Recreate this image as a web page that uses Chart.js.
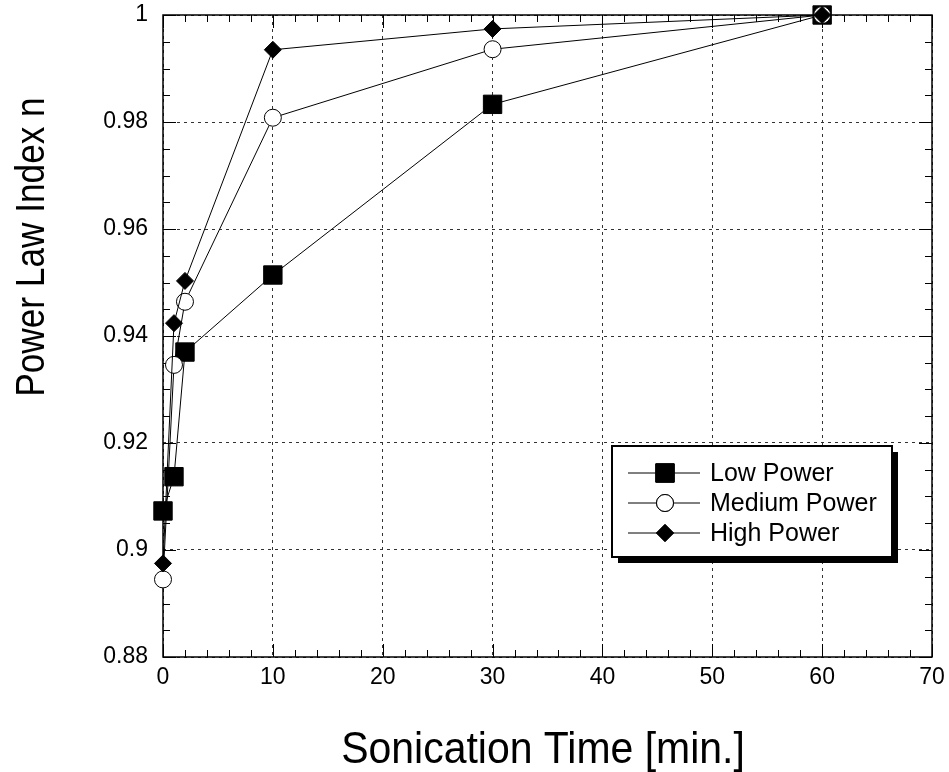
<!DOCTYPE html>
<html lang="en">
<head>
  <meta charset="UTF-8">
  <title>Power Law Index vs Sonication Time</title>
  <script src="https://cdn.jsdelivr.net/npm/chart.js@4.4.0/dist/chart.umd.min.js"></script>
  <style>
    html, body { margin: 0; padding: 0; background: #fff; }
    #wrap { width: 949px; height: 772px; }
  </style>
</head>
<body>
  <div id="wrap"><canvas id="chart"></canvas></div>

  <script>
    // sonication time in minutes
    const times = [0, 1, 2, 10, 30, 60];
    const lowPower = [0.9073, 0.9137, 0.9370, 0.9514, 0.9833, 1.0];
    const mediumPower = [0.8945, 0.9346, 0.9464, 0.9808, 0.9936, 1.0];
    const highPower = [0.8975, 0.9424, 0.9503, 0.9935, 0.9974, 1.0];
    const seriesNames = ['Low Power', 'Medium Power', 'High Power'];

    const xTickValues = [0, 10, 20, 30, 40, 50, 60, 70];
    const xTickLabels = ['0', '10', '20', '30', '40', '50', '60', '70'];
    const yTickValues = [0.88, 0.9, 0.92, 0.94, 0.96, 0.98, 1.0];
    const yTickLabels = ['0.88', '0.9', '0.92', '0.94', '0.96', '0.98', '1'];

    const FONT = '"Liberation Sans", Arial, sans-serif';

    const toPoints = ys => times.map((t, i) => ({ x: t, y: ys[i] }));

    // frame + inside ticks on all four sides
    const framePlugin = {
      id: 'frame',
      beforeDatasetsDraw(chart) {
        const { ctx, chartArea: a, scales: { x, y } } = chart;
        ctx.save();
        ctx.strokeStyle = '#000';
        ctx.lineWidth = 1;
        ctx.beginPath();
        for (let v = 0; v <= 70; v += 2) {
          const px = Math.round(x.getPixelForValue(v)) + 0.5;
          const len = v % 10 === 0 ? 13 : 7;
          ctx.moveTo(px, a.bottom); ctx.lineTo(px, a.bottom - len);
          ctx.moveTo(px, a.top); ctx.lineTo(px, a.top + len);
        }
        for (let k = 0; k <= 24; k++) {
          const v = 0.88 + k * 0.005;
          const py = Math.round(y.getPixelForValue(v)) + 0.5;
          const len = k % 4 === 0 ? 13 : 7;
          ctx.moveTo(a.left, py); ctx.lineTo(a.left + len, py);
          ctx.moveTo(a.right, py); ctx.lineTo(a.right - len, py);
        }
        ctx.stroke();
        ctx.lineWidth = 1.5;
        ctx.strokeRect(a.left, a.top, a.right - a.left, a.bottom - a.top);
        ctx.restore();
      },
      afterDraw(chart) {
        const { ctx } = chart;
        ctx.save();
        ctx.fillStyle = '#000';

        // axis titles (glyphs in the original are a bit condensed)
        ctx.textAlign = 'center';
        ctx.textBaseline = 'alphabetic';
        ctx.save();
        ctx.translate(543, 763);
        ctx.scale(0.91, 1);
        ctx.font = '45px ' + FONT;
        ctx.fillText('Sonication Time [min.]', 0, 0);
        ctx.restore();

        ctx.save();
        ctx.translate(44, 247);
        ctx.rotate(-Math.PI / 2);
        ctx.scale(0.88, 1);
        ctx.font = '40px ' + FONT;
        ctx.fillText('Power Law Index n', 0, 0);
        ctx.restore();

        // legend box with drop shadow
        const bx = 612, by = 446, bw = 280, bh = 111;
        ctx.fillRect(bx + 6, by + 6, bw, bh);
        ctx.fillStyle = '#fff';
        ctx.fillRect(bx, by, bw, bh);
        ctx.strokeStyle = '#000';
        ctx.lineWidth = 2;
        ctx.strokeRect(bx, by, bw, bh);

        ctx.font = '25px ' + FONT;
        ctx.textAlign = 'left';
        ctx.textBaseline = 'middle';
        chart.data.datasets.forEach((ds, i) => {
          const ry = by + 27 + i * 30;
          ctx.strokeStyle = '#000';
          ctx.lineWidth = 1;
          ctx.beginPath();
          ctx.moveTo(bx + 16, ry); ctx.lineTo(bx + 88, ry);
          ctx.stroke();
          Chart.helpers.drawPoint(ctx, {
            pointStyle: ds.pointStyle,
            radius: ds.pointRadius,
            rotation: 0,
            borderWidth: 1
          }, bx + 53, ry);
          ctx.fillStyle = ds.pointBackgroundColor;
          ctx.fill();
          ctx.stroke();
          ctx.fillStyle = '#000';
          ctx.fillText(ds.label, bx + 98, ry + 1);
        });
        ctx.restore();
      }
    };

    const common = {
      showLine: true,
      borderColor: '#000',
      borderWidth: 1,
      pointBorderColor: '#000',
      pointBorderWidth: 1,
      tension: 0,
      clip: false
    };

    new Chart(document.getElementById('chart'), {
      type: 'scatter',
      data: {
        datasets: [
          { ...common, label: seriesNames[0], data: toPoints(lowPower), pointStyle: 'rect', pointRadius: 13, pointBackgroundColor: '#000', order: 3 },
          { ...common, label: seriesNames[1], data: toPoints(mediumPower), pointStyle: 'circle', pointRadius: 8.5, pointBackgroundColor: '#fff', order: 2 },
          { ...common, label: seriesNames[2], data: toPoints(highPower), pointStyle: 'rectRot', pointRadius: 8.5, pointBackgroundColor: '#000', order: 1 }
        ]
      },
      options: {
        responsive: true,
        maintainAspectRatio: false,
        animation: false,
        events: [],
        layout: { padding: { top: 15, right: 17, left: 0, bottom: 0 } },
        plugins: {
          legend: { display: false },
          tooltip: { enabled: false }
        },
        scales: {
          x: {
            type: 'linear',
            min: 0,
            max: 70,
            afterBuildTicks: s => { s.ticks = xTickValues.map(v => ({ value: v })); },
            afterFit: s => { s.height = 115; s.paddingLeft = 0; s.paddingRight = 0; },
            grid: { color: '#333', drawTicks: false, lineWidth: 1 },
            border: { display: false, dash: [3, 4] },
            ticks: {
              color: '#000',
              font: { family: FONT, size: 23 },
              padding: 7,
              maxRotation: 0,
              callback: (v, i) => xTickLabels[i]
            }
          },
          y: {
            type: 'linear',
            min: 0.88,
            max: 1.0,
            afterBuildTicks: s => { s.ticks = yTickValues.map(v => ({ value: v })); },
            afterFit: s => { s.width = 163; s.paddingTop = 0; s.paddingBottom = 0; },
            grid: { color: '#333', drawTicks: false, lineWidth: 1 },
            border: { display: false, dash: [3, 4] },
            ticks: {
              color: '#000',
              font: { family: FONT, size: 23 },
              padding: 15,
              callback: (v, i) => yTickLabels[i]
            }
          }
        }
      },
      plugins: [framePlugin]
    });
  </script>
</body>
</html>
